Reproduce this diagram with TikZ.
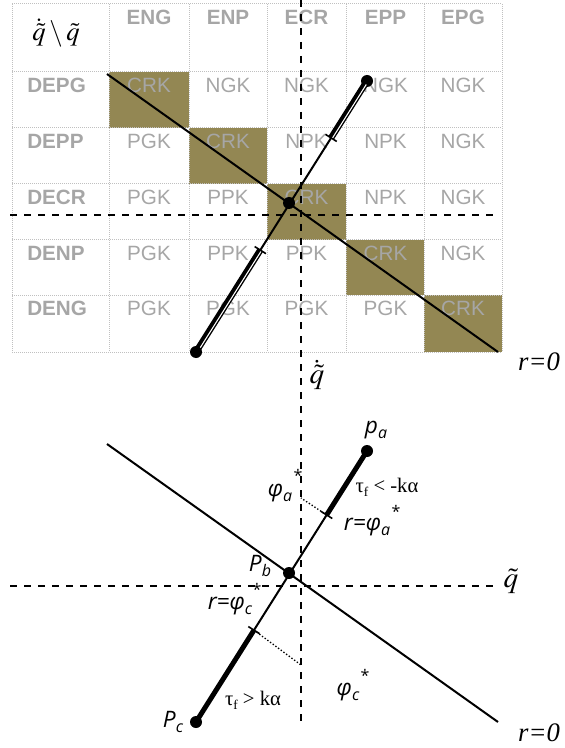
\documentclass[tikz,border=0pt]{standalone}
\usepackage{mathptmx}
\usepackage{fontspec}
\setmainfont{Liberation Serif}
\newfontfamily\arialf{Liberation Sans}
\newfontfamily\labf{Open Sans}
\usetikzlibrary{calc}
\definecolor{olivecell}{RGB}{147,135,83}
\definecolor{cellgray}{RGB}{166,166,166}
\definecolor{gridgray}{RGB}{192,192,192}
\newcommand{\lsub}[1]{\raisebox{-0.25em}{\fontsize{12}{12}\selectfont #1}}
\newcommand{\tsub}[1]{\raisebox{-0.2em}{\fontsize{10}{10}\selectfont #1}}
\begin{document}
\begin{tikzpicture}[x=0.75pt,y=-0.75pt,
  gridline/.style={gridgray, line width=0.75pt, dash pattern=on 0.75pt off 0.75pt},
  hdr/.style={text=cellgray, font=\arialf\bfseries\fontsize{15.5}{16}\selectfont, inner sep=0pt},
  cell/.style={text=cellgray, font=\arialf\fontsize{15.5}{16}\selectfont, inner sep=0pt},
  mainline/.style={line width=1.5pt},
  dashline/.style={line width=1.5pt, dash pattern=on 5.5pt off 5pt},
  dotst/.style={circle, fill=black, minimum size=9pt, inner sep=0pt},
  thickseg/.style={line width=3.75pt},
  dblseg/.style={line width=4.8pt},
  tickln/.style={line width=1.2pt},
  dotln/.style={line width=1pt, dash pattern=on 1pt off 1.5pt},
  lbl/.style={font=\labf\itshape\fontsize{17}{18}\selectfont, inner sep=0pt},
  starlbl/.style={font=\labf\fontsize{12}{12}\selectfont, inner sep=0pt},
  mathlbl/.style={font=\fontsize{20}{22}\selectfont, inner sep=0pt},
  axlbl/.style={font=\fontsize{22}{24}\selectfont, inner sep=0pt},
  rzero/.style={font=\itshape\fontsize{20}{22}\selectfont, inner sep=0pt},
  taulbl/.style={font=\fontsize{15.5}{16}\selectfont, inner sep=0pt}]
\useasboundingbox (0,0) rectangle (564,748);

% diagonal cells
\foreach \xa/\ya/\xb/\yb in {109/72/189/128, 189/128/267/184, 267/184/346/240, 346/240/424/295, 424/295/502/352}
  \fill[olivecell] (\xa,\ya) rectangle (\xb,\yb);

% grid
\foreach \yy in {4,72,128,184,240,295,352}
  \draw[gridline] (12,\yy) -- (502,\yy);
\foreach \xx in {12,109,189,267,346,424,502}
  \draw[gridline] (\xx,4) -- (\xx,352);

% headers
\foreach \xx/\tt [count=\i] in {149/ENG, 228/ENP, 306.5/ECR, 385.5/EPP, 463/EPG}
  \node[hdr] (h\i) at (\xx,17) {\tt};
\foreach \yy/\tt [count=\i] in {85/DEPG, 141/DEPP, 197/DECR, 253/DENP, 308/DENG}
  \node[hdr, anchor=west] (rl\i) at (27,\yy) {\tt};

% cells
\foreach \yy/\ta/\tb/\tcx/\tdx/\te [count=\i] in {85/CRK/NGK/NGK/NGK/NGK, 141/PGK/CRK/NPK/NPK/NGK, 197/PGK/PPK/CRK/NPK/NGK, 253/PGK/PPK/PPK/CRK/NGK, 308/PGK/PGK/PGK/PGK/CRK}{
  \node[cell] (c\i-1) at (149,\yy) {\ta};
  \node[cell] (c\i-2) at (228,\yy) {\tb};
  \node[cell] (c\i-3) at (306.5,\yy) {\tcx};
  \node[cell] (c\i-4) at (385.5,\yy) {\tdx};
  \node[cell] (c\i-5) at (463,\yy) {\te};
}

\node[mathlbl] (corner) at (56,33) {$\dot{\tilde q}\setminus\tilde q$};

% dashed axes
\coordinate (vt) at (301,0);
\coordinate (vb) at (301,723);
\coordinate (hl1) at (10,215);
\coordinate (hr1) at (495,215);
\coordinate (hl2) at (10,586);
\coordinate (hr2) at (495,586);
\draw[dashline] (vt) -- (vb);
\draw[dashline] (hl1) -- (hr1);
\draw[dashline] (hl2) -- (hr2);

% r=0 lines
\coordinate (rza) at (107,74);
\coordinate (rzb) at (498,352);
\coordinate (rzc) at (107,444);
\coordinate (rzd) at (498,722);
\draw[mainline] (rza) -- (rzb);
\draw[mainline] (rzc) -- (rzd);
\node[rzero] (r0a) at (539,362) {r=0};
\node[rzero] (r0b) at (539,733) {r=0};

% top sliding line
\node[dotst] (qa) at (367,81) {};
\node[dotst] (qb) at (289,203) {};
\node[dotst] (qc) at (196,352) {};
\coordinate (ta) at ($(qc.center)!0.79!(qa.center)$);
\coordinate (tc) at ($(qc.center)!0.376!(qa.center)$);
\draw[mainline] (qc.center) -- (qa.center);
\draw[dblseg] (qa.center) -- (ta);
\draw[dblseg] (qc.center) -- (tc);
\draw[white, line width=0.8pt, transform canvas={shift={(0.8pt,-0.5pt)}}] ($(qa.center)!0.05!(ta)$) -- (ta);
\draw[white, line width=0.8pt, transform canvas={shift={(0.8pt,-0.5pt)}}] ($(qc.center)!0.05!(tc)$) -- (tc);
\draw[tickln] ($(ta)!5pt!90:(qa.center)$) -- ($(ta)!5pt!-90:(qa.center)$);
\draw[tickln] ($(tc)!5pt!90:(qa.center)$) -- ($(tc)!5pt!-90:(qa.center)$);

\node[axlbl] (qdl) at (317,375) {$\dot{\tilde q}$};
\node[axlbl] (qtl) at (511,581) {$\tilde q$};

% bottom sliding line
\node[dotst] (pa) at (367,451) {};
\node[dotst] (pb) at (289,573) {};
\node[dotst] (pc) at (196,722) {};
\coordinate (sa) at ($(pc.center)!0.764!(pa.center)$);
\coordinate (sc) at ($(pc.center)!0.339!(pa.center)$);
\coordinate (da) at (301,498);
\coordinate (dc) at (301,665);
\draw[mainline] (pc.center) -- (pa.center);
\draw[thickseg] (pa.center) -- (sa);
\draw[thickseg] (pc.center) -- (sc);
\draw[tickln] ($(sa)!5pt!90:(pa.center)$) -- ($(sa)!5pt!-90:(pa.center)$);
\draw[tickln] ($(sc)!5pt!90:(pa.center)$) -- ($(sc)!5pt!-90:(pa.center)$);
\draw[dotln] (sa) -- (da);
\draw[dotln] (sc) -- (dc);

% labels
\node[lbl] (lpa) at (376,430) {p\lsub{a}};
\node[lbl] (lphia) at (280,493) {φ\lsub{a}};
\node[starlbl] (sphia) at (298,475) {*};
\node[lbl] (lra) at (367,527) {r=φ\lsub{a}};
\node[starlbl] (sra) at (396,511) {*};
\node[lbl] (lpb) at (260,566) {P\lsub{b}};
\node[lbl] (lrc) at (230,606) {r=φ\lsub{c}};
\node[starlbl] (src) at (257,589) {*};
\node[lbl] (lphic) at (348,692) {φ\lsub{c}};
\node[starlbl] (sphic) at (365,675) {*};
\node[lbl] (lpc) at (173,722) {P\lsub{c}};
\node[taulbl] (tauneg) at (387,487) {τ\tsub{f} {<} -kα};
\node[taulbl] (taupos) at (253,700) {τ\tsub{f} {>} kα};
\end{tikzpicture}
\end{document}
